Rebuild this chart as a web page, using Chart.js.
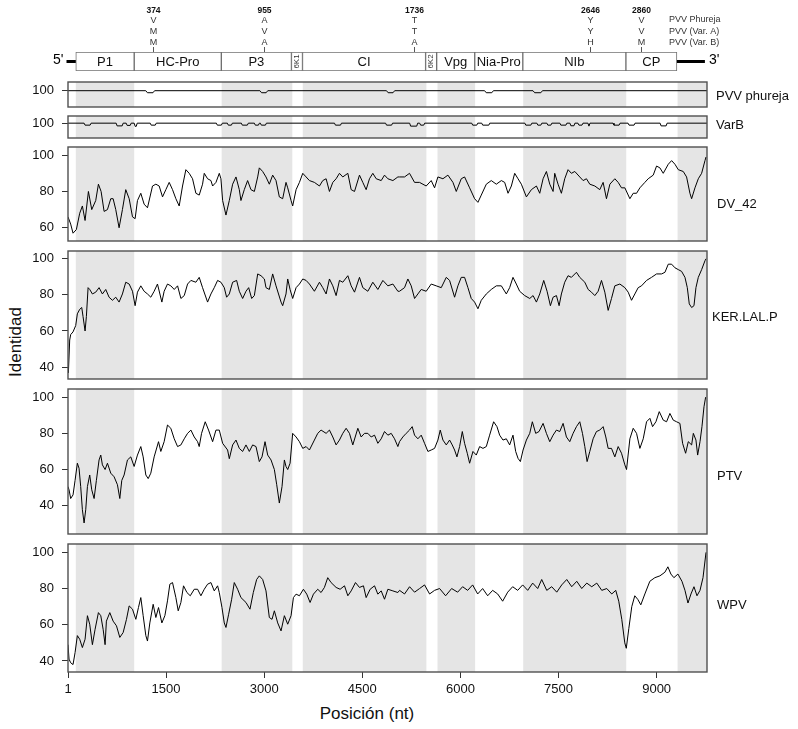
<!DOCTYPE html>
<html lang="es">
<head>
<meta charset="utf-8">
<title>Identidad</title>
<script src="https://cdn.jsdelivr.net/npm/chart.js@4.4.1/dist/chart.umd.min.js"></script>
<style>
html,body{margin:0;padding:0;background:#fff;}
body{position:relative;width:798px;height:729px;overflow:hidden;font-family:"Liberation Sans",Arial,sans-serif;color:#111;}
.box{position:absolute;left:0;width:798px;}
.box canvas{display:block;}
.lbl{position:absolute;font-size:13px;line-height:13px;white-space:nowrap;color:#111;}
#ylab{position:absolute;left:15px;top:342px;font-size:17px;line-height:17px;transform:translate(-50%,-50%) rotate(-90deg);white-space:nowrap;color:#111;}
#xlab{position:absolute;left:367px;top:713px;font-size:17px;line-height:17px;transform:translate(-50%,-50%);white-space:nowrap;color:#111;}
</style>
</head>
<body>
<div id="ylab">Identidad</div>
<div id="xlab">Posición (nt)</div>
<script>
// ---------- data ----------
const xMin = 1, xMax = 9770;
const xTicks = [1, 1500, 3000, 4500, 6000, 7500, 9000];

const genes = ['P1','HC-Pro','P3','6K1','CI','6K2','Vpg','Nia-Pro','NIb','CP'];
const geneStart = [120, 1013, 2345, 3417, 3586, 5468, 5637, 6219, 6954, 8530];
const geneEnd   = [1013, 2345, 3417, 3586, 5468, 5637, 6219, 6954, 8530, 9310];
const utr3End = 9738;

const shadedStart = [120, 2350, 3590, 5650, 6960, 9320];
const shadedEnd   = [1013, 3430, 5480, 6225, 8535, 9770];

const mutPos = [1304, 2990, 5286, 7981, 8755];
const mutAA = ['374', '955', '1736', '2646', '2860'];
const resPhureja = ['V', 'A', 'T', 'Y', 'V'];
const resVarA    = ['M', 'V', 'T', 'Y', 'V'];
const resVarB    = ['M', 'A', 'A', 'H', 'M'];
const strainNames = ['PVV Phureja', 'PVV (Var. A)', 'PVV (Var. B)'];

const panelNames = ['PVV phureja', 'VarB', 'DV_42', 'KER.LAL.P', 'PTV', 'WPV'];
const panelTicks = [[100], [100], [60, 80, 100], [40, 60, 80, 100], [40, 60, 80, 100], [40, 60, 80, 100]];

const phurejaPos = [1,1190,1215,1300,1325,2935,2960,3030,3055,4870,4895,4970,4995,6370,6395,6480,6505,7110,7135,7230,7255,9770];
const phurejaVal = [100,100,98.5,98.5,100,100,98.5,98.5,100,100,98.5,98.5,100,100,98.5,98.5,100,100,98.5,98.5,100,100];

const varBPos = [1,247,262,339,354,737,752,829,844,890,905,952,967,1013,1028,1044,1059,1258,1273,1335,1350,
  2269,2284,2346,2361,2437,2452,2499,2514,2651,2666,2743,2758,2850,2865,2912,2927,2942,2957,3019,3034,
  4075,4090,4167,4182,4856,4871,4948,4963,5224,5239,5332,5347,5377,5392,5439,5454,6173,6188,6250,6265,
  6326,6341,6434,6449,6985,7000,7077,7092,7169,7184,7230,7245,7322,7337,7383,7398,7521,7536,7613,7628,
  7674,7689,7736,7751,7797,7812,7859,7874,7950,7965,7981,8333,8348,8426,8441,8563,8578,8655,8670,
  9053,9068,9145,9160,9770];
const varBVal = [100,100,98.4,98.4,100,100,97.8,97.8,100,100,98.2,98.2,100,100,97.4,97.4,100,100,98.4,98.4,100,
  100,98.4,98.4,100,100,98.4,98.4,100,100,98.4,98.4,100,100,98.4,98.4,100,100,98.4,98.4,100,
  100,98.4,98.4,100,100,98.4,98.4,100,100,97.6,97.6,100,100,98.4,98.4,100,100,98.4,98.4,100,
  100,98.4,98.4,100,100,98.4,98.4,100,100,98.4,98.4,100,100,98.4,98.4,100,100,98.4,98.4,100,
  100,97.9,97.9,100,100,98.4,98.4,100,100,97.6,100,100,98.4,98.4,100,100,98.4,98.4,100,
  100,97.8,97.8,100,100];

const dv42Pos = [1,42,78,129,180,221,262,313,364,425,466,507,553,604,655,691,731,782,833,884,
  936,987,1027,1063,1114,1165,1216,1293,1344,1395,1446,1497,1548,1599,1650,1701,1752,1803,1854,1905,
  1956,2007,2058,2084,2135,2186,2212,2263,2314,2339,2365,2416,2467,2518,2569,2620,2645,2696,2747,2798,
  2850,2901,2926,2977,3028,3079,3130,3181,3232,3283,3334,3360,3411,3436,3488,3539,3590,3641,3692,3768,
  3845,3896,3947,3998,4049,4100,4151,4202,4279,4330,4381,4457,4508,4559,4610,4661,4713,4789,4840,4891,
  4968,5044,
  5069,5146,5222,5299,5375,5477,5554,5605,5656,5733,5809,5886,5937,6013,6064,6141,6217,6268,6319,6396,
  6472,6549,6626,6677,6728,6779,6830,6881,6932,7009,7085,7162,7213,7264,7315,7366,7417,7442,7493,7544,
  7595,7646,7697,7749,7825,7876,7927,7978,8055,8131,8182,8233,8285,8361,8412,8463,8514,8591,8642,8693,
  8744,8820,8871,8948,8999,9050,9101,9178,9229,9280,9331,9407,9458,9509,9535,9586,9637,9688,9739,9755];
const dv42Val = [66,62,57,59,68,72,64,80,70,75,84,80,69,70,76,76,70,60,70,81,
  76,66,65,75,79,73,71,83,84,83,77,81,85,81,76,72,83,92,90,87,
  79,78,84,90,87,86,83,85,90,87,75,67,75,84,88,81,75,81,86,81,
  80,88,93,91,88,84,89,86,77,76,85,82,75,72,81,85,90,88,86,85,
  83,86,87,80,85,87,90,88,90,81,80,89,85,81,87,90,87,86,89,87,
  86,88,
  88,88,90,85,85,83,86,82,88,87,89,85,80,87,88,82,76,74,78,84,
  86,84,86,85,79,83,90,87,84,77,81,83,79,87,91,84,80,90,84,79,
  87,92,90,91,88,86,87,84,83,81,85,76,84,87,85,82,82,76,79,79,
  82,85,87,89,94,93,90,95,97,95,92,91,88,79,76,82,87,90,97,99];

const kerPos = [1,7,27,42,78,119,144,180,211,231,262,282,308,333,374,425,476,527,578,629,
  680,731,782,833,884,936,987,1027,1063,1114,1165,1216,1267,1318,1369,1436,1471,1522,1573,1625,
  1676,1727,1778,1829,1880,1956,2007,2058,2135,2186,2237,2288,2339,2390,2426,2467,2518,2579,2620,2671,
  2722,2763,2809,2850,2901,2952,3003,3028,3079,3130,3181,3258,3283,3334,3360,3396,3436,3488,3539,3590,
  3641,3692,3768,3845,3896,3947,3998,4049,4100,4151,4202,4279,4330,4381,4457,4508,4585,4661,4738,4815,
  4891,4968,5044,
  5069,5146,5197,5248,5299,5350,5401,5477,5554,5630,5707,5784,5835,5911,5962,6013,6064,6115,6166,6217,
  6268,6319,6396,6472,6549,6626,6702,6753,6804,6855,6906,6983,7060,7111,7162,7213,7274,7325,7376,7417,
  7468,7509,7544,7595,7646,7697,7774,7825,7902,7953,8004,8055,8106,8157,8208,8259,8310,8361,8438,8514,
  8565,8616,8667,8718,8769,8846,8922,8999,9076,9127,9178,9229,9280,9331,9382,9433,9469,9499,9535,9571,
  9601,9637,9688,9739,9755];
const kerVal = [39,37,55,58,59.5,63,69.5,72,73,68,60,68,84,83,80.5,81.5,84,80.5,83,78.7,
  77,78.7,76,80.5,87,86,82,74,81.5,85,82,80.5,78.7,82,86,76,82,86,85,83,
  85,78,79.6,86,88,87,89.7,84,76,80.5,84,88,87,84,78.7,80.5,87,88,82,78,
  82,84,78,79.6,91.6,90.6,88.8,84,83,91.6,85,76,74,80.5,88.8,83,78,84,86,88.8,
  88,86,82,87,84,80.5,88.8,85,79.6,88,87,90.6,85,81.5,89.7,84,82,87,83,88,
  85,86,82,
  82,84,88.8,85,78,80.5,83,82,86,85,84,89.7,88,78.7,85,89.7,89.7,84,78,76,
  72.3,77,80.5,83,85,85,80.5,84,89.7,86,82,79.6,78,79.6,76,80.5,88,82,74,78.7,
  79.6,74,80.5,87,90.6,89.7,92.5,89.7,87,83,81.5,79.6,82,88,81.5,71.4,78,85,86,84,
  81.5,77,80.5,84,85,88,89.7,91.6,91.6,92.5,97,97,95,94,93,89.7,84,75,73,74,
  84,89.7,94,98.9,100];

const ptvPos = [1,17,42,78,109,144,170,195,221,247,272,298,333,364,400,435,476,502,527,568,
  604,655,706,757,793,823,859,910,961,1012,1063,1114,1150,1191,1227,1267,1318,1385,1420,1471,
  1522,1573,1625,1676,1727,1778,1829,1880,1931,1982,2007,2043,2099,2150,2212,2263,2314,2365,2441,2467,
  2518,2569,2620,2671,2722,2773,2824,2875,2926,2967,3013,3054,3105,3156,3192,3232,3273,3309,3334,3360,
  3396,3436,3488,3539,3590,3641,3692,3768,3819,3870,3947,3998,4049,4100,4151,4202,4253,4304,4355,4432,
  4483,4534,4585,4636,4687,4738,4789,4840,4891,4942,4993,5044,
  5069,5120,5171,5222,5263,5299,5350,5401,5452,5503,5554,5605,5656,5692,5733,5784,5835,5875,5911,5947,
  5988,6029,6064,6105,6141,6192,6243,6294,6345,6396,6447,6508,6559,6600,6651,6702,6753,6804,6845,6881,
  6917,6958,7009,7060,7100,7151,7202,7264,7315,7366,7417,7468,7519,7570,7621,7672,7723,7774,7825,7866,
  7902,7937,7978,8029,8080,8131,8182,8223,8259,8310,8361,8412,8463,8514,8540,8591,8642,8693,8744,8795,
  8846,8897,8938,8989,9040,9101,9152,9203,9254,9305,9356,9397,9443,9484,9535,9561,9601,9627,9663,9693,
  9724,9749];
const ptvVal = [50.6,48.8,44,46,54,63.5,60.7,50.6,37.8,30.5,37.8,50.6,57,48.8,44,54,65.3,68,62.6,60,
  63.5,58,56,51.6,44,54,57,65.3,67,61.7,68,72.7,67,57,55,58,67,75.4,70,75.4,
  84.6,82.8,77,72.7,73.6,77,80,81.8,78,75.4,72.7,80,86.4,81.8,75.4,81.8,81.8,74.5,70.8,66,
  73.6,76.3,71.7,70,73.6,70,73.6,72.7,64.4,67,75.4,68,65.3,60,51.6,41.5,50.6,65.3,61.7,60,
  63.5,80,78,75.4,71.7,72.7,70.8,76.3,80,81.8,80,81.8,78,73.6,76.3,80,82.8,80,73.6,82.8,
  78,80,80,78,79,74.5,77,81,79,80,77,72.7,
  75.4,78,80,81.8,83.7,79,77,79,74.5,70,70.8,71.7,76.3,81.8,76.3,73.6,76.3,73.6,70.8,67,
  72.7,81,74.5,69,63.5,70,68,72.7,71.7,72.7,79,86.4,83.7,79,76.3,77,73.6,79,70,66.2,
  64.4,70.8,76.3,80,86.4,80,81,85.5,80,75.4,79,81.8,81,85.5,78,75.4,80,83.7,86.4,80,
  72.7,64.4,70,77,81,81.8,83.7,78,71.7,71.7,67,72.7,69,62.6,60,77,82.8,80,71.7,77,
  86.4,88.3,83.7,86.4,92,87.3,86.4,91,87.3,86.4,85.5,74.5,69,75.4,73.6,80,76.3,68,75.4,83.7,
  94.7,100];

const wpvPos = [1,17,42,78,109,144,180,221,262,298,333,374,415,466,502,538,568,588,640,691,
  742,793,844,895,936,987,1038,1078,1114,1150,1191,1216,1252,1303,1344,1385,1436,1482,1522,1558,
  1599,1650,1686,1727,1767,1819,1870,1931,1982,2033,2084,2135,2186,2237,2288,2314,2355,2390,2416,2457,
  2503,2543,2594,2645,2722,2783,2834,2885,2926,2977,3028,3079,3120,3156,3207,3258,3309,3360,3411,3447,
  3488,3539,3600,3651,3702,3753,3819,3870,3921,3972,4023,4100,4161,4228,4279,4330,4396,4457,4518,4559,
  4620,4687,4738,4789,4840,4891,4968,5044,
  5070,5146,5223,5299,5376,5452,5529,5605,5682,5774,5866,5958,6034,6111,6187,6264,6340,6417,6493,6570,
  6646,6723,6799,6876,6952,7029,7105,7182,7243,7320,7396,7473,7549,7626,7702,7779,7855,7932,8008,8085,
  8161,8238,8314,8375,8421,8467,8513,8536,8575,8620,8666,8712,8758,8820,8896,8973,9050,9126,9172,9218,
  9264,9325,9387,9433,9479,9525,9571,9617,9663,9709,9755];
const wpvVal = [49,41,39,38,44.6,54,52,47.4,52,65,60.3,49,57.5,66.7,65,57.5,49,62,66.7,62,
  59.4,53,55.7,63,70.4,68.6,63,69.5,75,65,54,51,61,71.3,64,69.5,61,65,73.2,82.4,
  83.3,75,67.7,72.3,81.5,77.8,76,79.6,79.6,76,79.6,82.4,83.3,78.7,81.5,77.8,69.5,61,58.5,65.8,
  74.1,83.3,79.6,75,72.3,68.6,77.8,85,87,85,78.7,64,63,67.7,61,56.6,65,60.3,65,75,
  76.9,76,79.6,76.9,72.3,76.9,79.6,77.8,80.6,86,83.3,80.6,79.6,81.5,76,78.7,83.3,80.6,81.5,75,
  79.6,81.5,76.9,78.7,74.1,79.6,78.7,77.8,
  79,77,81,78,80,82,77,79,80,76,80,78,81,79,82,77,80,76,79,77,
  73,78,81,79,82,79,83,80,85,79,81,78,82,85,81,84,80,83,81,83,
  79,80,77,79,73,63,50,47,58,70,76,74,71,77,84,86,87,89,92,88,
  86,88,84,79,72,77,81,76,79,86,100];

// ---------- drawing ----------
const FONT = '"Liberation Sans", Arial, sans-serif';
Chart.defaults.font.family = FONT;
Chart.defaults.color = '#111';

function addCanvas(top, h) {
  const d = document.createElement('div');
  d.className = 'box';
  d.style.top = top + 'px';
  d.style.height = h + 'px';
  const c = document.createElement('canvas');
  c.width = 798; c.height = h;
  c.style.width = '798px'; c.style.height = h + 'px';
  d.appendChild(c);
  document.body.appendChild(d);
  return c;
}

const genomeDeco = {
  id: 'genomeDeco',
  afterDatasetsDraw(chart) {
    const {ctx, chartArea: a, scales: {x}} = chart;
    const midY = (a.top + a.bottom) / 2;
    ctx.save();
    ctx.textAlign = 'center';
    ctx.textBaseline = 'middle';
    genes.forEach((g, i) => {
      const cx = (x.getPixelForValue(geneStart[i]) + x.getPixelForValue(geneEnd[i])) / 2;
      if (g.startsWith('6K')) {
        ctx.save();
        ctx.translate(cx, midY);
        ctx.rotate(-Math.PI / 2);
        ctx.font = '8px ' + FONT;
        ctx.fillStyle = '#333';
        ctx.fillText(g, 0, 0);
        ctx.restore();
      } else {
        ctx.font = '13px ' + FONT;
        ctx.fillStyle = '#111';
        ctx.fillText(g, cx, midY + 0.5);
      }
    });
    const x5 = x.getPixelForValue(geneStart[0]);
    const x0 = x.getPixelForValue(xMin) - 1.5;
    const x3 = x.getPixelForValue(geneEnd[geneEnd.length - 1]);
    const x3e = x.getPixelForValue(utr3End);
    ctx.fillStyle = '#000';
    ctx.fillRect(x0, midY - 1.5, x5 - x0, 3);
    ctx.fillRect(x3, midY - 1.5, x3e - x3, 3);
    ctx.font = '14px ' + FONT;
    ctx.textAlign = 'right';
    ctx.fillText("5'", x0 - 3, midY - 1);
    ctx.textAlign = 'left';
    ctx.fillText("3'", x3e + 4, midY - 1);
    ctx.textAlign = 'center';
    mutPos.forEach((p, i) => {
      const px = Math.round(x.getPixelForValue(p)) + 0.5;
      ctx.strokeStyle = '#555';
      ctx.lineWidth = 1;
      ctx.beginPath();
      ctx.moveTo(px, a.top - 5);
      ctx.lineTo(px, a.top);
      ctx.stroke();
      ctx.fillStyle = '#111';
      ctx.font = 'bold 8.5px ' + FONT;
      ctx.fillText(mutAA[i], px, a.top - 41);
      ctx.fillStyle = '#333';
      ctx.font = '9px ' + FONT;
      ctx.fillText(resPhureja[i], px, a.top - 31);
      ctx.fillText(resVarA[i], px, a.top - 20);
      ctx.fillText(resVarB[i], px, a.top - 9);
    });
    ctx.textAlign = 'left';
    ctx.font = '9px ' + FONT;
    ctx.fillStyle = '#333';
    strainNames.forEach((s, i) => {
      ctx.fillText(s, a.right - 38, a.top - 32 + i * 11.3);
    });
    ctx.restore();
  }
};

new Chart(addCanvas(0, 78), {
  type: 'bar',
  data: {
    labels: ['genoma'],
    datasets: genes.map((g, i) => ({
      label: g,
      data: [[geneStart[i], geneEnd[i]]],
      backgroundColor: '#ffffff',
      borderColor: '#707070',
      borderWidth: 1,
      borderSkipped: false,
      grouped: false,
      barPercentage: 1,
      categoryPercentage: 1
    }))
  },
  options: {
    indexAxis: 'y',
    responsive: false,
    animation: false,
    events: [],
    layout: {padding: {left: 68, right: 91, top: 52, bottom: 7}},
    plugins: {legend: {display: false}, tooltip: {enabled: false}},
    scales: {
      x: {type: 'linear', min: xMin, max: xMax, display: false},
      y: {display: false}
    }
  },
  plugins: [genomeDeco]
});

const panelDeco = {
  id: 'panelDeco',
  beforeDatasetsDraw(chart) {
    const {ctx, chartArea: a, scales: {x}} = chart;
    ctx.save();
    ctx.fillStyle = '#e5e5e5';
    shadedStart.forEach((s, i) => {
      const x0 = x.getPixelForValue(s), x1 = x.getPixelForValue(shadedEnd[i]);
      ctx.fillRect(x0, a.top, x1 - x0, a.bottom - a.top);
    });
    ctx.restore();
  },
  afterDraw(chart) {
    const {ctx, chartArea: a} = chart;
    ctx.save();
    ctx.strokeStyle = '#505050';
    ctx.lineWidth = 1.4;
    ctx.strokeRect(a.left, a.top, a.right - a.left, a.bottom - a.top);
    ctx.restore();
  }
};

const panelLayout = [
  {top: 80,  h: 29,  pt: 2, pb: 2, min: 88,   max: 106.4, labelY: 96,  labelX: 716},
  {top: 114, h: 26,  pt: 2, pb: 2, min: 88,   max: 105.8, labelY: 125, labelX: 716},
  {top: 140, h: 103, pt: 7, pb: 2, min: 52.7, max: 104.5, labelY: 204, labelX: 717},
  {top: 245, h: 136, pt: 6, pb: 2, min: 33.4, max: 104.3, labelY: 317, labelX: 712},
  {top: 383, h: 153, pt: 6, pb: 2, min: 24.4, max: 104.5, labelY: 476, labelX: 717},
  {top: 538, h: 191, pt: 6, pb: 0, min: 33.9, max: 104.6, labelY: 605, labelX: 717, xAxis: true}
];
const series = [[phurejaPos, phurejaVal], [varBPos, varBVal], [dv42Pos, dv42Val],
                [kerPos, kerVal], [ptvPos, ptvVal], [wpvPos, wpvVal]];

panelLayout.forEach((L, k) => {
  const [pos, val] = series[k];
  const xScale = {
    type: 'linear', min: xMin, max: xMax, display: !!L.xAxis,
    afterBuildTicks: s => { s.ticks = xTicks.map(v => ({value: v})); },
    afterFit: s => {
      if (L.xAxis) s.height = 57;
      s.paddingLeft = 0; s.paddingRight = 0;
    },
    ticks: {autoSkip: false, maxRotation: 0, minRotation: 0, padding: 4,
            font: {size: 13}, color: '#111', callback: v => String(v)},
    grid: {drawOnChartArea: false, drawTicks: true, tickLength: 6, color: '#333'},
    border: {display: false}
  };
  new Chart(addCanvas(L.top, L.h), {
    type: 'line',
    data: {
      datasets: [{
        label: panelNames[k],
        data: pos.map((p, i) => ({x: p, y: val[i]})),
        borderColor: '#000',
        borderWidth: 1,
        pointRadius: 0,
        tension: 0,
        fill: false
      }]
    },
    options: {
      responsive: false,
      animation: false,
      events: [],
      layout: {padding: {top: L.pt, bottom: L.pb, left: 0, right: 91}},
      plugins: {legend: {display: false}, tooltip: {enabled: false}},
      scales: {
        x: xScale,
        y: {
          type: 'linear', min: L.min, max: L.max,
          afterFit: s => { s.width = 68; s.paddingTop = 0; s.paddingBottom = 0; },
          afterBuildTicks: s => { s.ticks = panelTicks[k].map(v => ({value: v})); },
          ticks: {padding: 8, font: {size: 13}, color: '#111', callback: v => String(v)},
          grid: {drawOnChartArea: false, drawTicks: true, tickLength: 6, color: '#333'},
          border: {display: false}
        }
      }
    },
    plugins: [panelDeco]
  });
  const d = document.createElement('div');
  d.className = 'lbl';
  d.textContent = panelNames[k];
  d.style.left = L.labelX + 'px';
  d.style.top = (L.labelY - 7) + 'px';
  document.body.appendChild(d);
});
</script>
</body>
</html>
